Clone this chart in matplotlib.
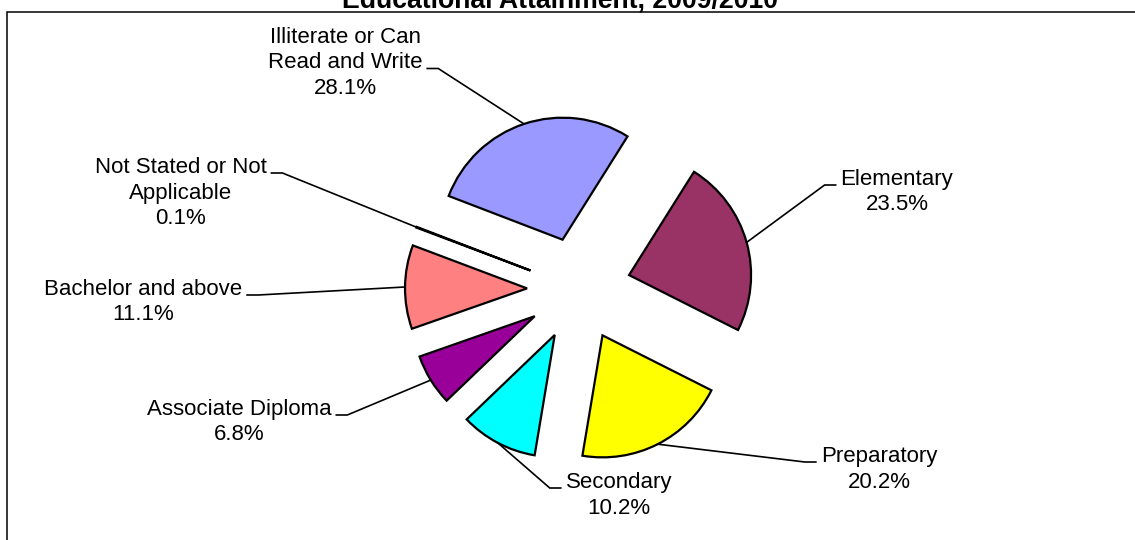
import matplotlib
matplotlib.use("Agg")
import matplotlib.pyplot as plt
from matplotlib.patches import Rectangle
import numpy as np

# ---- data ----
categories = ["Illiterate or Can\nRead and Write", "Elementary", "Preparatory",
              "Secondary", "Associate Diploma", "Bachelor and above",
              "Not Stated or Not\nApplicable"]
shares = [28.1, 23.5, 20.2, 10.2, 6.8, 11.1, 0.1]
pct_labels = ["28.1%", "23.5%", "20.2%", "10.2%", "6.8%", "11.1%", "0.1%"]
colors = ["#9999FF", "#993366", "#FFFF00", "#00FFFF", "#990099", "#FF8080", "#3366CC"]
title = "Educational Attainment, 2009/2010"

# ---- layout (pixels, y measured from top) ----
W, H = 1135, 540
center_px = (579, 289)
radius_px = 122
explode_frac = 0.426
# label: (x centre, first baseline y from top, line with leader, side of leader)
label_pos = [(345, 43, 1, "right"), (897, 185, 0, "left"), (879, 462, 0, "left"),
             (619, 488, 0, "left"), (239, 415, 0, "right"), (143, 295, 0, "right"),
             (180.5, 173, 0, "right")]
line_step = 25.5
fs = 16

plt.rcParams["font.family"] = ["Liberation Sans", "DejaVu Sans"]
fig = plt.figure(figsize=(W / 100, H / 100), dpi=100)
ax = fig.add_axes([0, 0, 1, 1])

wedges, _ = ax.pie(shares, colors=colors, startangle=159, counterclock=False,
                   radius=radius_px, center=(center_px[0], H - center_px[1]),
                   explode=[explode_frac * radius_px] * len(shares), frame=True,
                   wedgeprops=dict(edgecolor="black", linewidth=1.6))
ax.set_xlim(0, W)
ax.set_ylim(0, H)
ax.set_aspect("auto")
ax.axis("off")

# frame
ax.add_patch(Rectangle((7, -20), 1300, H - 12 + 20, fill=False, edgecolor="black",
                       linewidth=1.1, zorder=0))
# title (cut at top like reference)
ax.text(560, H - 7, title, ha="center", va="baseline", fontsize=19.2,
        fontweight="bold", color="black")

fig.canvas.draw()
renderer = fig.canvas.get_renderer()

for w, name, pct, (lx, ly, li, side) in zip(wedges, categories, pct_labels, label_pos):
    lines = name.split("\n") + [pct]
    texts = []
    for i, ln in enumerate(lines):
        t = ax.text(lx, H - (ly + i * line_step), ln, ha="center", va="baseline",
                    fontsize=fs, color="black")
        texts.append(t)
    bb = texts[li].get_window_extent(renderer)
    yb = H - (ly + li * line_step)
    if side == "right":
        x0 = bb.x1 + 5
        xk = x0 + 11
    else:
        x0 = bb.x0 - 5
        xk = x0 - 11
    # arc midpoint of wedge
    tm = np.deg2rad((w.theta1 + w.theta2) / 2)
    ex = w.center[0] + w.r * np.cos(tm)
    ey = w.center[1] + w.r * np.sin(tm)
    ax.plot([x0, xk, ex], [yb, yb, ey], color="black", linewidth=1.2,
            solid_joinstyle="miter")

fig.savefig("out.png", dpi=100)
